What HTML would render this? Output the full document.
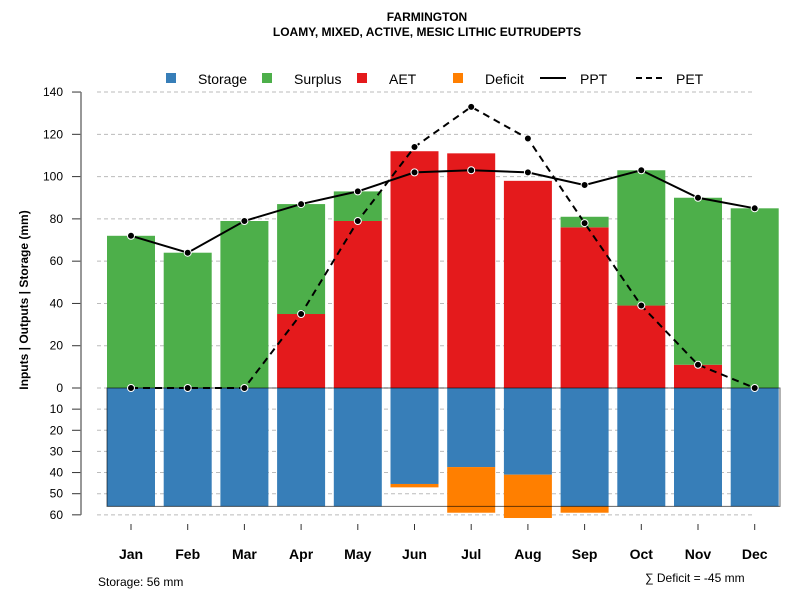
<!DOCTYPE html>
<html><head><meta charset="utf-8"><style>body{margin:0;background:#fff}svg{font-family:"Liberation Sans",sans-serif}</style></head>
<body>
<svg id="c" width="800" height="600">
<text x="427" y="21" text-anchor="middle" font-size="12" font-weight="bold">FARMINGTON</text>
<text x="427" y="36" text-anchor="middle" font-size="12" font-weight="bold">LOAMY, MIXED, ACTIVE, MESIC LITHIC EUTRUDEPTS</text>
<g id="grid"></g><g id="bars"></g><g id="lines"></g><g id="axes"></g>
<g font-size="14">
<rect x="166" y="73" width="10" height="10" fill="#377eb8"/><text x="198" y="84">Storage</text>
<rect x="262" y="73" width="10" height="10" fill="#4daf4a"/><text x="294" y="84">Surplus</text>
<rect x="357" y="73" width="10" height="10" fill="#e41a1c"/><text x="389" y="84">AET</text>
<rect x="453" y="73" width="10" height="10" fill="#ff7f00"/><text x="485" y="84">Deficit</text>
<line x1="540" y1="78" x2="566" y2="78" stroke="#000" stroke-width="2"/><text x="580" y="84">PPT</text>
<line x1="636" y1="78" x2="662" y2="78" stroke="#000" stroke-width="2" stroke-dasharray="6,4"/><text x="676" y="84">PET</text>
</g>
<text transform="translate(28,300) rotate(-90)" text-anchor="middle" font-size="12" font-weight="bold">Inputs | Outputs | Storage    (mm)</text>
<text x="98" y="586" font-size="12">Storage: 56 mm</text>
<text x="645" y="582" font-size="12">∑ Deficit = -45 mm</text>
</svg>
<script>
const months=["Jan","Feb","Mar","Apr","May","Jun","Jul","Aug","Sep","Oct","Nov","Dec"];
const ppt=[72,64,79,87,93,102,103,102,96,103,90,85];
const pet=[0,0,0,35,79,114,133,118,78,39,11,0];
const aet=[0,0,0,35,79,112,111,98,76,39,11,0];
const surplus=[72,64,79,52,14,0,0,0,5,64,79,85];
const storage=[56,56,56,56,56,45.4,37.4,41,56,56,56,56];
const deficit=[0,0,0,0,0,1.6,21.6,20.5,3,0,0,0];
const posTicks=[0,20,40,60,80,100,120,140];
const negTicks=[10,20,30,40,50,60];
const NS="http://www.w3.org/2000/svg";
const y=v=>388-v*2.114;
const x=i=>131+i*56.7;
const bw=48;
function mk(t,a,p){const e=document.createElementNS(NS,t);for(const k in a)e.setAttribute(k,a[k]);document.getElementById(p).appendChild(e);return e;}
posTicks.concat(negTicks.map(v=>-v)).forEach(v=>{
 const g=mk("line",{x1:97,x2:755,y1:y(v),y2:y(v),stroke:"#bbb","stroke-dasharray":"4,3"},"grid");
 
 
 const t=mk("line",{x1:72,x2:81,y1:y(v),y2:y(v),stroke:"#333"},"axes");
 
 
 const l=mk("text",{x:63,y:y(v)+4,"text-anchor":"end","font-size":"12"},"axes");
 l.textContent=Math.abs(v);
 
 
});
const ax=mk("line",{x1:81,x2:81,y1:y(140),y2:y(-60),stroke:"#777","stroke-width":1.5},"axes");


months.forEach((m,i)=>{
 const cx=x(i),x0=cx-bw/2;
 const a=mk("rect",{x:x0,y:y(aet[i]),width:bw,height:aet[i]*2.114,fill:"#e41a1c"},"bars");
 
 
 const s=mk("rect",{x:x0,y:y(aet[i]+surplus[i]),width:bw,height:surplus[i]*2.114,fill:"#4daf4a"},"bars");
 
 
 const st=mk("rect",{x:x0,y:388,width:bw,height:storage[i]*2.114,fill:"#377eb8"},"bars");
 
 
 const d=mk("rect",{x:x0,y:y(-storage[i]),width:bw,height:deficit[i]*2.114,fill:"#ff7f00"},"bars");
 
 
 const tk=mk("line",{x1:cx,x2:cx,y1:524,y2:530,stroke:"#333"},"axes");
 
 
 const t=mk("text",{x:cx,y:559,"text-anchor":"middle","font-size":"14","font-weight":"bold"},"axes");
 t.textContent=m;
 
 
});
const box=mk("rect",{x:107,y:388,width:673,height:56*2.114,fill:"none",stroke:"#000","stroke-opacity":0.6},"bars");


function series(arr,name,dash){
 const p=mk("polyline",{points:arr.map((v,i)=>x(i)+","+y(v)).join(" "),fill:"none",stroke:"#000","stroke-width":2,"stroke-dasharray":dash},"lines");
 
 
 arr.forEach((v,i)=>{
  const c=mk("circle",{cx:x(i),cy:y(v),r:3.5,fill:"#000",stroke:"#fff","stroke-width":1},"lines");
  
  
 });
}
series(pet,"pet","7,5");
series(ppt,"ppt","none");
</script>
</body></html>
